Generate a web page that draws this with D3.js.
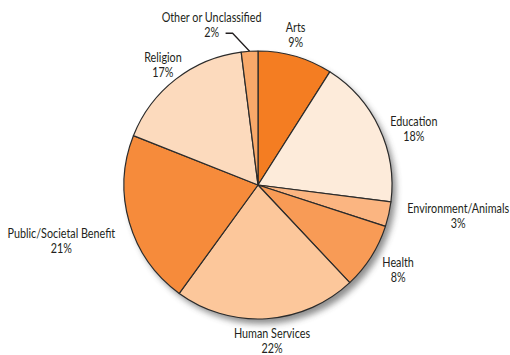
<!DOCTYPE html>
<html>
<head>
<meta charset="utf-8">
<script src="https://cdn.jsdelivr.net/npm/d3@7"></script>
<style>
  body { margin: 0; background: #fff; }
  text { font-family: Lato, "Open Sans", sans-serif; font-size: 13px; fill: #231f20; }
</style>
</head>
<body>
<div id="chart"></div>
<script>
// chart data
var categories = ["Arts", "Education", "Environment/Animals", "Health",
                  "Human Services", "Public/Societal Benefit", "Religion", "Other or Unclassified"];
var shares = [9, 18, 3, 8, 22, 21, 17, 2];
var pctLabels = ["9%", "18%", "3%", "8%", "22%", "21%", "17%", "2%"];
var colors = ["#f47d22", "#fdebda", "#fbb581", "#f89b56", "#fcc79b", "#f68b3b", "#fcdabd", "#f9a96a"];

var w = 510,
    h = 355,
    cx = 258,
    cy = 185,
    radius = 134,
    labelRadius = 160,
    lineGap = 15,
    squeeze = 0.83;   // the original face is narrow, so condense Lato a bit

// hand tweaks so the labels sit where the original put them
var labelNudge = {
    "Arts": [-7, 4],
    "Education": [11, 12],
    "Environment/Animals": [44, -4],
    "Health": [5, -1],
    "Human Services": [4, -4],
    "Public/Societal Benefit": [-43, 11],
    "Religion": [3, 6]
};

var svg = d3.select("#chart")
    .append("svg")
    .attr("width", w)
    .attr("height", h);

// soft shadow under the pie
var f = svg.append("defs").append("filter")
    .attr("id", "shadow")
    .attr("x", "-20%").attr("y", "-20%")
    .attr("width", "140%").attr("height", "140%");
f.append("feGaussianBlur").attr("stdDeviation", 3);

var g = svg.append("g")
    .attr("transform", "translate(" + cx + "," + cy + ")");

g.append("circle")
    .attr("cx", 4)
    .attr("cy", 5)
    .attr("r", radius)
    .attr("fill", "#444")
    .attr("opacity", 0.6)
    .attr("filter", "url(#shadow)");

var pie = d3.pie().sort(null).value(function (d) { return d; });
var arcs = pie(shares);

var arc = d3.arc().innerRadius(0).outerRadius(radius);

g.selectAll("path.slice")
    .data(arcs)
    .enter()
    .append("path")
    .attr("class", "slice")
    .attr("d", arc)
    .attr("fill", function (d, i) { return colors[i]; })
    .attr("stroke", "#2b2b2b")
    .attr("stroke-width", 1.2)
    .attr("stroke-linejoin", "round");

function pointAt(angle, r) {
    return [Math.sin(angle) * r, -Math.cos(angle) * r];
}

// labels
var last = arcs.length - 1;
arcs.forEach(function (d, i) {
    var mid = (d.startAngle + d.endAngle) / 2;
    var tx, ty;
    if (i === last) {
        // small slice: leader line up and to the left
        var s = pointAt(mid, radius);
        var elbow = [s[0] - 17, s[1] - 18];
        var end = [elbow[0] - 7, elbow[1]];
        g.append("path")
            .attr("d", d3.line()([s, elbow, end]))
            .attr("fill", "none")
            .attr("stroke", "#231f20")
            .attr("stroke-width", 1.3);
        tx = end[0] - 14;
        ty = end[1] - 11;
    } else {
        var p = pointAt(mid, labelRadius);
        var nudge = labelNudge[categories[i]] || [0, 0];
        tx = p[0] + nudge[0];
        ty = p[1] + nudge[1] - 3;
    }
    var lbl = g.append("g")
        .attr("text-anchor", "middle")
        .attr("transform", "translate(" + tx + "," + ty + ") scale(" + squeeze + ",1)");
    lbl.append("text").attr("y", 0).text(categories[i]);
    lbl.append("text").attr("y", lineGap).text(pctLabels[i]);
});
</script>
</body>
</html>
